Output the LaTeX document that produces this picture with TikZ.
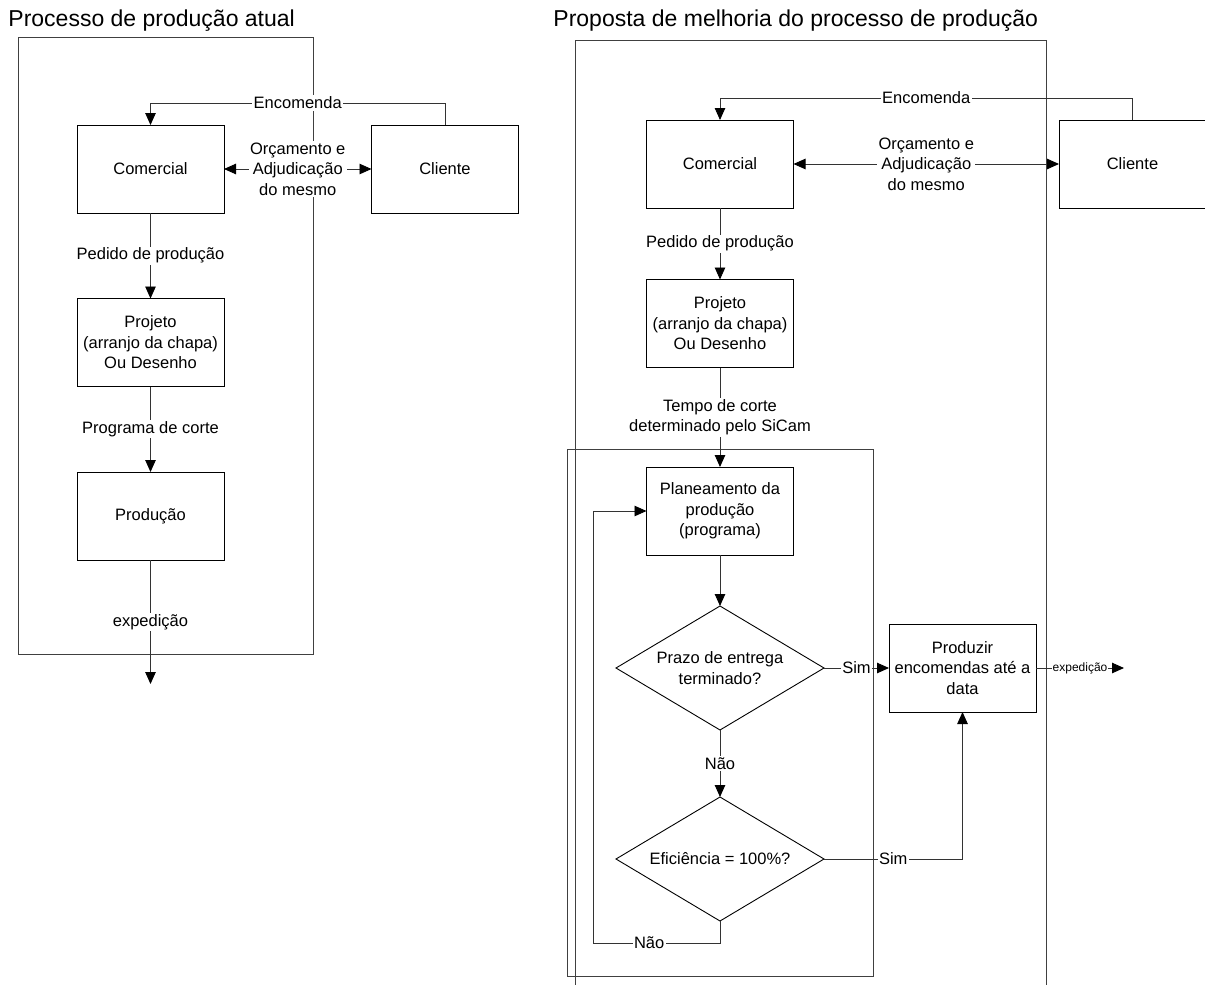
\documentclass[tikz,border=0pt]{standalone}
\usepackage{fontspec}
\setmainfont{Liberation Sans}
\usetikzlibrary{arrows.meta,shapes.geometric}
\begin{document}
\begin{tikzpicture}[x=1pt,y=-1pt,
  line width=0.9pt,
  frame/.style={draw=black!75},
  box/.style={draw=black, rectangle, minimum width=147pt, minimum height=88pt,
    inner sep=2pt, outer sep=0pt, align=center, font=\fontsize{16.5}{20.5}\selectfont},
  decision/.style={draw=black, diamond, aspect=1.7, minimum width=208pt,
    minimum height=124pt, inner sep=0pt, outer sep=0pt, align=center,
    font=\fontsize{16.5}{20.5}\selectfont},
  lbl/.style={fill=white, inner sep=1.5pt, align=center,
    font=\fontsize{16.5}{20.5}\selectfont},
  small/.style={fill=white, inner sep=0.5pt, font=\fontsize{12}{14}\selectfont},
  tip/.tip={Triangle[length=12pt,width=10.5pt,color=black]},
  flow/.style={draw=black!80, -tip},
  both/.style={draw=black!80, tip-tip},
  heading/.style={anchor=base west, inner sep=0pt, font=\fontsize{23}{27}\selectfont}
]
\useasboundingbox (0,0) rectangle (1205,985);

% headings
\node[heading] (t1) at (8,27) {Processo de produção atual};
\node[heading] (t2) at (553,27) {Proposta de melhoria do processo de produção};

% ---------- current process ----------
\draw[frame] (18,37) rectangle (313,654);

\node[box] (lcom)  at (150.5,169)   {Comercial};
\node[box] (lcli)  at (445,169)     {Cliente};
\node[box] (lproj) at (150.5,342.5) {Projeto\\(arranjo da chapa)\\Ou Desenho};
\node[box] (lprod) at (150.5,516)   {Produção};
\coordinate (lout) at (150.5,684);

\draw[flow] (lcli.north) -- ++(0,-22) -| node[lbl,pos=0.25] {Encomenda} (lcom.north);
\draw[both] (lcom.east) -- node[lbl] {Orçamento e\\Adjudicação\\do mesmo} (lcli.west);
\draw[flow] (lcom.south) -- node[lbl] {Pedido de produção} (lproj.north);
\draw[flow] (lproj.south) -- node[lbl] {Programa de corte} (lprod.north);
\draw[flow] (lprod.south) -- node[lbl] {expedição} (lout);

% ---------- proposed process ----------
\draw[frame] (575,985) |- (1046,40) -- (1046,985);
\draw[frame] (567,449) rectangle (873,976);

\node[box] (rcom)  at (720,164)    {Comercial};
\node[box] (rcli)  at (1132.5,164) {Cliente};
\node[box] (rproj) at (720,323.5)  {Projeto\\(arranjo da chapa)\\Ou Desenho};
\node[box] (rplan) at (720,511)    {Planeamento da\\produção\\(programa)};
\node[decision] (d1) at (720,668)  {Prazo de entrega\\terminado?};
\node[decision] (d2) at (720,859)  {Eficiência = 100\%?};
\node[box] (rprod) at (962.5,668)  {Produzir\\encomendas até a\\data};
\coordinate (rout) at (1124,668);

\draw[flow] (rcli.north) -- ++(0,-22) -| node[lbl,pos=0.25] {Encomenda} (rcom.north);
\draw[both] (rcom.east) -- node[lbl] {Orçamento e\\Adjudicação\\do mesmo} (rcli.west);
\draw[flow] (rcom.south) -- node[lbl] {Pedido de produção} (rproj.north);
\draw[flow] (rproj.south) -- node[lbl] {Tempo de corte\\determinado pelo SiCam} (rplan.north);
\draw[flow] (rplan.south) -- (d1.north);
\draw[flow] (d1.east) -- node[lbl] {Sim} (rprod.west);
\draw[flow] (d1.south) -- node[lbl] {Não} (d2.north);
\draw[flow] (d2.east) -| node[lbl,pos=0.25] {Sim} (rprod.south);
\draw[flow] (d2.south) -- ++(0,22) -| node[lbl,pos=0.28] {Não} ([xshift=-53pt]rplan.west) -- (rplan.west);
\draw[flow] (rprod.east) -- node[small] {expedição} (rout);
\end{tikzpicture}
\end{document}
